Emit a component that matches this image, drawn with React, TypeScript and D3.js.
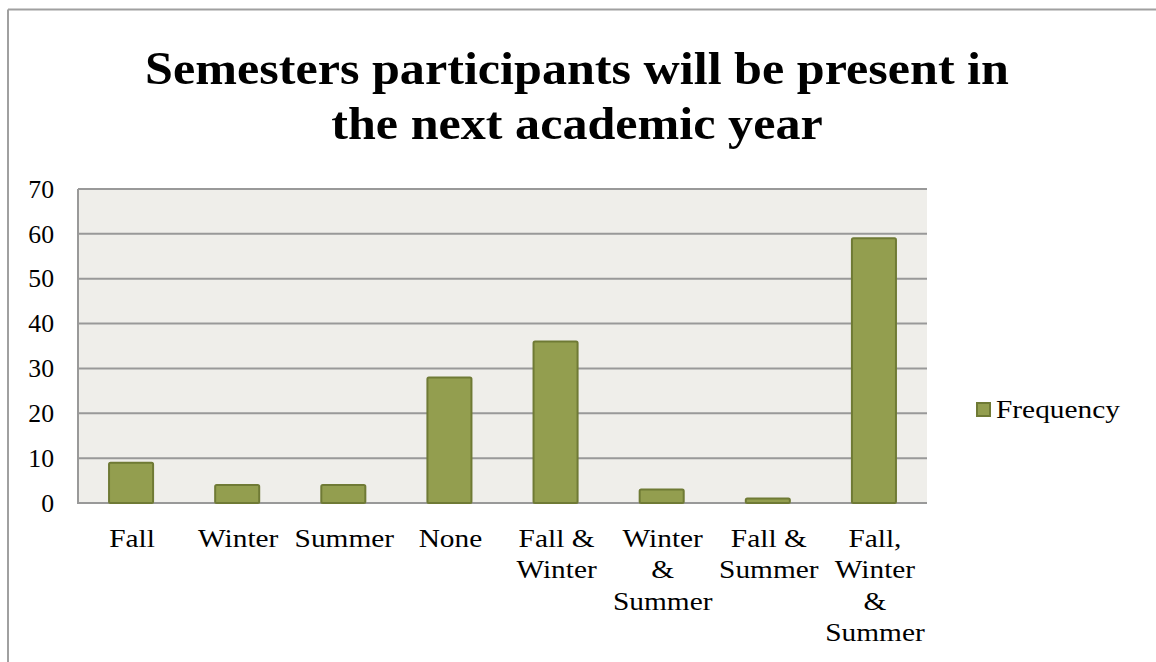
import React from "react";
import * as d3 from "d3";

const categories: string[][] = [
  ["Fall"],
  ["Winter"],
  ["Summer"],
  ["None"],
  ["Fall &", "Winter"],
  ["Winter", "&", "Summer"],
  ["Fall &", "Summer"],
  ["Fall,", "Winter", "&", "Summer"],
];
const frequency: number[] = [9, 4, 4, 28, 36, 3, 1, 59];
const yTicks: number[] = [0, 10, 20, 30, 40, 50, 60, 70];
const titleLines: string[] = ["Semesters participants will be present in", "the next academic year"];
const seriesName = "Frequency";

const W = 1156;
const H = 662;
const plot = { left: 78, right: 927, top: 189, bottom: 503 };
const FONT = "'Liberation Serif', 'DejaVu Serif', serif";
const SX = 1.13; // widen glyphs to approximate Palatino proportions

export default function App() {
  const keys = categories.map((c) => c.join(" "));
  const x = d3.scaleBand<string>().domain(keys).range([plot.left, plot.right]).paddingInner(0.585).paddingOuter(0.2925);
  const y = d3.scaleLinear().domain([0, 70]).range([plot.bottom, plot.top]);

  return (
    <svg width={W} height={H} style={{ position: "absolute", left: 0, top: 0, background: "#fff" }}>
      {/* outer frame */}
      <line x1={8} y1={9.5} x2={W} y2={9.5} stroke="#a0a0a0" strokeWidth={2} />
      <line x1={8} y1={9.5} x2={8} y2={H} stroke="#a0a0a0" strokeWidth={2} />

      {/* title */}
      {titleLines.map((t, i) => (
        <text
          key={i}
          transform={`translate(577,${84 + i * 55}) scale(1.09,1)`}
          textAnchor="middle"
          fontFamily={FONT}
          fontWeight="bold"
          fontSize={46}
          fill="#000"
        >
          {t}
        </text>
      ))}

      {/* plot background */}
      <rect x={plot.left} y={plot.top} width={plot.right - plot.left} height={plot.bottom - plot.top} fill="#efeeea" />

      {/* gridlines */}
      {yTicks.map((t) => (
        <line key={t} x1={plot.left} x2={plot.right} y1={y(t)} y2={y(t)} stroke="#999999" strokeWidth={2} />
      ))}
      <line x1={plot.left} x2={plot.left} y1={plot.top} y2={plot.bottom + 1} stroke="#999999" strokeWidth={2} />

      {/* y tick labels */}
      {yTicks.map((t) => (
        <text
          key={"l" + t}
          transform={`translate(54,${y(t)}) scale(1.03,1)`}
          dy="0.35em"
          textAnchor="end"
          fontFamily={FONT}
          fontSize={25}
          fill="#000"
        >
          {t}
        </text>
      ))}

      {/* bars */}
      {frequency.map((v, i) => {
        const bx = x(keys[i])!;
        return (
          <rect
            key={i}
            x={bx}
            y={y(v)}
            width={x.bandwidth()}
            height={y(0) - y(v)}
            rx={1.5}
            fill="#939e4f"
            stroke="#6f7a35"
            strokeWidth={2}
          />
        );
      })}

      {/* x labels */}
      {categories.map((lines, i) => {
        const cx = x(keys[i])! + x.bandwidth() / 2 + 1;
        return (
          <text
            key={"x" + i}
            transform={`translate(${cx},547) scale(${SX},1)`}
            textAnchor="middle"
            fontFamily={FONT}
            fontSize={26}
            fill="#000"
          >
            {lines.map((ln, j) => (
              <tspan key={j} x={0} y={j * 31.5}>
                {ln}
              </tspan>
            ))}
          </text>
        );
      })}

      {/* legend */}
      <rect x={977} y={403} width={13} height={13} fill="#939e4f" stroke="#6f7a35" strokeWidth={2} />
      <text transform={`translate(996,418) scale(${SX},1)`} fontFamily={FONT} fontSize={26} fill="#000">
        {seriesName}
      </text>
    </svg>
  );
}
